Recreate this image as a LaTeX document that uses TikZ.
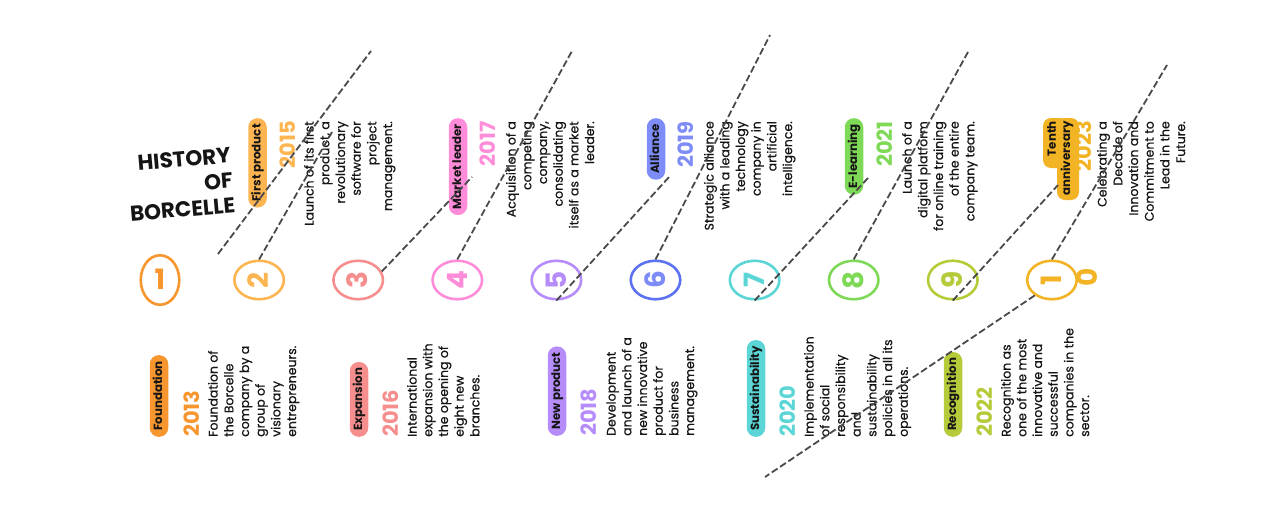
\documentclass[tikz,border=0pt]{standalone}
\usepackage{fontspec}
\setmainfont{Poppins}
\newfontfamily\medf{Poppins}[FakeBold=0.6]
\usetikzlibrary{shapes.geometric}
\definecolor{ka}{HTML}{F7962F}
\definecolor{kb}{HTML}{FDB551}
\definecolor{kc}{HTML}{F78E8E}
\definecolor{kd}{HTML}{FF8CD9}
\definecolor{ke}{HTML}{B58CF9}
\definecolor{kf}{HTML}{7D8CF7}
\definecolor{kfd}{HTML}{5C72F2}
\definecolor{kg}{HTML}{5CD5D6}
\definecolor{kh}{HTML}{7ED957}
\definecolor{ki}{HTML}{B7CB3A}
\definecolor{kj}{HTML}{F2B324}
\definecolor{dashc}{HTML}{4A4A4A}
\definecolor{ink}{HTML}{151515}
\begin{document}
\begin{tikzpicture}[x=1pt,y=-1pt,
  circ/.style={ellipse, draw=#1, line width=2.6pt, minimum width=38.5pt, minimum height=49.5pt,
    inner sep=0pt, text=#1, font=\fontsize{28}{28}\selectfont\bfseries, text height=19.5pt, text depth=0pt},
  pill/.style={fill=#1, rounded corners=9pt, minimum height=18.5pt, inner xsep=6pt, inner ysep=0pt,
    text height=8.5pt, text depth=2.5pt, text=ink, font=\fontsize{11.8}{12}\selectfont\bfseries, rotate=90},
  yr/.style={text=#1, font=\fontsize{21}{21}\selectfont\bfseries, inner sep=0pt, text height=15pt, text depth=0pt, rotate=90},
  desc/.style={font=\fontsize{12.5}{15.7}\medf, text=ink, inner sep=0pt, rotate=90},
  dl/.style={draw=dashc, line width=1.8pt, dash pattern=on 7pt off 3pt}
]
\useasboundingbox (0,0) rectangle (1280,512);

% title
\node[anchor=east, align=right, rotate=5, inner sep=0pt, text=ink,
  font=\fontsize{21.5}{25}\selectfont\bfseries] (title) at (233,180) {HISTORY\\OF\\BORCELLE};

% circles
\node[circ=ka] (c1) at (160,280) {1};
\node[circ=kb, rotate=90] (c2) at (259.1,280) {2};
\node[circ=kc, rotate=90] (c3) at (358.2,280) {3};
\node[circ=kd, rotate=90] (c4) at (457.3,280) {4};
\node[circ=ke, rotate=90] (c5) at (556.4,280) {5};
\node[circ=kfd, text=kf, rotate=90] (c6) at (655.5,280) {6};
\node[circ=kg, rotate=90] (c7) at (754.6,280) {7};
\node[circ=kh, rotate=90] (c8) at (853.7,280) {8};
\node[circ=ki, rotate=90] (c9) at (952.8,280) {9};
\node[circ=kj, rotate=90] (c10) at (1051.9,280) {1};
\node[text=kj, font=\fontsize{28}{28}\selectfont\bfseries, inner sep=0pt, text height=19.5pt, text depth=0pt, rotate=90] (c10b) at (1088,277) {0};

% bottom events
\node[pill=ka, anchor=west] (p1) at (159,437) {Foundation};
\node[yr=ka, anchor=west] (y1) at (191.5,437) {2013};
\node[desc, anchor=north west, align=left] (d1) at (206.4,437) {\strut Foundation of\\the Borcelle\\company by a\\group of\\visionary\\entrepreneurs.};

\node[pill=kc, anchor=west] (p3) at (359,437) {Expansion};
\node[yr=kc, anchor=west] (y3) at (390.5,437) {2016};
\node[desc, anchor=north west, align=left] (d3) at (405.4,437) {\strut International\\expansion with\\the opening of\\eight new\\branches.};

\node[pill=ke, anchor=west] (p5) at (557,436) {New product};
\node[yr=ke, anchor=west] (y5) at (588.5,436) {2018};
\node[desc, anchor=north west, align=left] (d5) at (604.4,436) {\strut Development\\and launch of a\\new innovative\\product for\\business\\management.};

\node[pill=kg, anchor=west] (p7) at (756,437) {Sustainability};
\node[yr=kg, anchor=west] (y7) at (787.5,437) {2020};
\node[desc, anchor=north west, align=left] (d7) at (802.4,437) {\strut Implementation\\of social\\responsibility\\and\\sustainability\\policies in all its\\operations.};

\node[pill=ki, anchor=west] (p9) at (953,437) {Recognition};
\node[yr=ki, anchor=west] (y9) at (985,437) {2022};
\node[desc, anchor=north west, align=left] (d9) at (999.4,437) {\strut Recognition as\\one of the most\\innovative and\\successful\\companies in the\\sector.};

% top events
\node[pill=kb, anchor=east] (p2) at (257.5,118) {First product};
\node[yr=kb, anchor=east] (y2) at (287.5,121) {2015};
\node[desc, anchor=north east, align=right] (d2) at (302.4,121) {\strut Launch of its first\\product, a\\revolutionary\\software for\\project\\management.};

\node[pill=kd, anchor=east] (p4) at (458,118) {Market leader};
\node[yr=kd, anchor=east] (y4) at (487.5,121) {2017};
\node[desc, anchor=north east, align=right] (d4) at (504.4,121) {\strut Acquisition of a\\competing\\company,\\consolidating\\itself as a market\\leader.};

\node[pill=kf, anchor=east] (p6) at (656,118) {Alliance};
\node[yr=kf, anchor=east] (y6) at (685.5,121) {2019};
\node[desc, anchor=north east, align=right] (d6) at (702.4,121) {\strut Strategic alliance\\with a leading\\technology\\company in\\artificial\\intelligence.};

\node[pill=kh, anchor=east] (p8) at (854,118) {E-learning};
\node[yr=kh, anchor=east] (y8) at (884.5,121) {2021};
\node[desc, anchor=north east, align=right] (d8) at (900.4,121) {\strut Launch of a\\digital platform\\for online training\\of the entire\\company team.};

\node[yr=kj, anchor=east] (y10) at (1084,121) {2023};
\fill[kj, rounded corners=8pt] (1043,118) rectangle (1068,168);
\fill[kj, rounded corners=8pt] (1057,118) rectangle (1079,200);
\node[anchor=north east, align=right, rotate=90, inner sep=0pt, text=ink,
  font=\fontsize{11.8}{12.5}\selectfont\bfseries] (p10) at (1047,121) {\strut Tenth\\anniversary};
\node[desc, anchor=north east, align=right] (d10) at (1095.4,121) {\strut Celebrating a\\Decade of\\Innovation and\\Commitment to\\Lead in the\\Future.};

% dashed connectors
\coordinate (a1) at (218,254);
\coordinate (b1) at (371,51);
\coordinate (b2) at (332,132);
\coordinate (b3) at (472,177);
\coordinate (b4) at (572,51);
\coordinate (b5) at (670,176);
\coordinate (b6) at (770,35);
\coordinate (b7) at (868,178);
\coordinate (b8) at (968,52);
\coordinate (b9) at (1058,185);
\coordinate (b10) at (1167,65);
\coordinate (b11) at (765,477);
\draw[dl] (a1) -- (b1);
\draw[dl] (c2.east) -- (b2);
\draw[dl] (c3.-70) -- (b3);
\draw[dl] (c4.east) -- (b4);
\draw[dl] (c5.west) -- (b5);
\draw[dl] (c6.east) -- (b6);
\draw[dl] (c7.west) -- (b7);
\draw[dl] (c8.east) -- (b8);
\draw[dl] (c9.west) -- (b9);
\draw[dl] (c10.east) -- (b10);
\draw[dl] (c10.132) -- (b11);
\end{tikzpicture}
\end{document}
